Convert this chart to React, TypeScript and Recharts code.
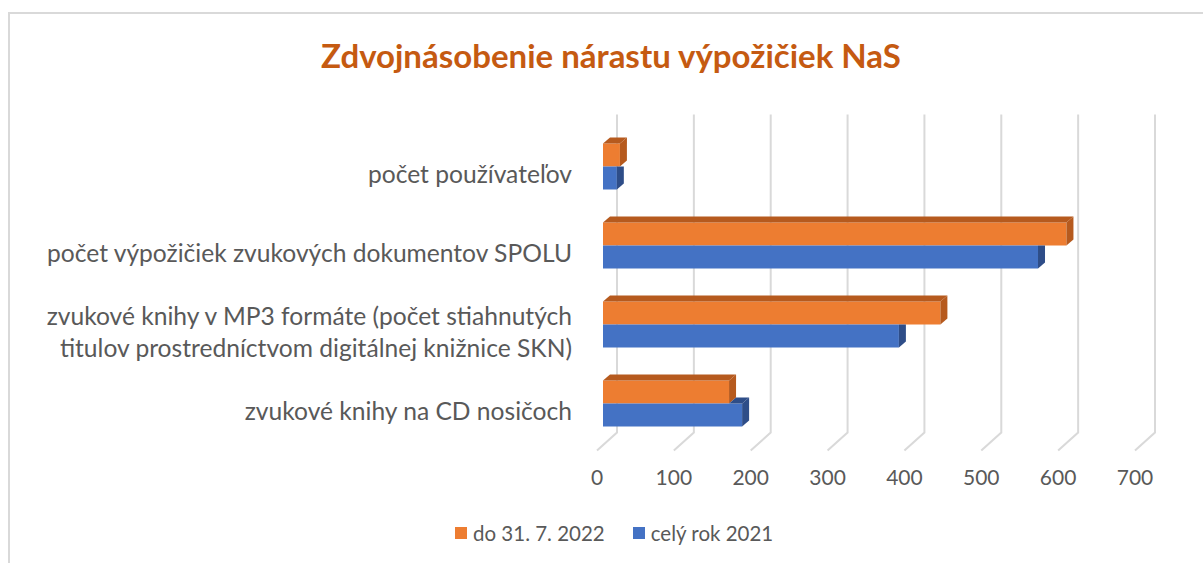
import React from 'react';
import { BarChart, Bar, XAxis, YAxis, CartesianGrid } from 'recharts';

const categories = [
  'počet používateľov',
  'počet výpožičiek zvukových dokumentov SPOLU',
  'zvukové knihy v MP3 formáte (počet stiahnutých\ntitulov prostredníctvom digitálnej knižnice SKN)',
  'zvukové knihy na CD nosičoch',
];
const seriesNames = ['do 31. 7. 2022', 'celý rok 2021'];
const values2022 = [22, 603, 439, 164];
const values2021 = [18, 566, 385, 181];
const xTicks = [0, 100, 200, 300, 400, 500, 600, 700];

const data = categories.map((name, i) => ({
  name,
  y2022: values2022[i],
  y2021: values2021[i],
}));

const ORANGE = '#ED7D31';
const ORANGE_DARK = '#B65A1E';
const BLUE = '#4472C4';
const BLUE_DARK = '#2E4D88';
const GRID = '#D9D9D9';
const TEXT = '#595959';
const FONT = 'Lato, "Open Sans", sans-serif';

const DX = 7;
const DY = 6;

function OrangeBar(props: any) {
  const { x, y, width, height } = props;
  if (!width) return null;
  return (
    <g>
      <rect x={x} y={y} width={width} height={height} fill={ORANGE} />
      <polygon
        points={`${x},${y} ${x + DX},${y - DY} ${x + width + DX},${y - DY} ${x + width},${y}`}
        fill={ORANGE_DARK}
      />
      <polygon
        points={`${x + width},${y} ${x + width + DX},${y - DY} ${x + width + DX},${y + height - DY} ${x + width},${y + height}`}
        fill={ORANGE_DARK}
      />
    </g>
  );
}

function BlueBar(props: any) {
  const { x, y, width, height, value, payload } = props;
  if (!width) return null;
  const wo = value ? (payload.y2022 * width) / value : 0;
  const right = x + width;
  let side;
  let top = null;
  if (width >= wo) {
    side = `${right},${y} ${right + DX},${y - DY} ${right + DX},${y + height - DY} ${right},${y + height}`;
    top = (
      <polygon
        points={`${x + wo},${y} ${x + wo + DX},${y - DY} ${right + DX},${y - DY} ${right},${y}`}
        fill={BLUE_DARK}
      />
    );
  } else {
    side = `${right},${y} ${right + DX},${y} ${right + DX},${y + height - DY} ${right},${y + height}`;
  }
  return (
    <g>
      <rect x={x} y={y} width={width} height={height} fill={BLUE} />
      {top}
      <polygon points={side} fill={BLUE_DARK} />
    </g>
  );
}

function GridLine(props: any) {
  const { x1, y1, y2 } = props;
  const bx = x1 + 14;
  return (
    <path
      key={props.key}
      d={`M${bx},${y1 - 12} L${bx},${y2 - 10} L${x1 - 6},${y2 + 8}`}
      stroke={GRID}
      strokeWidth={2}
      fill="none"
    />
  );
}

function XTick(props: any) {
  const { x, y, payload } = props;
  return (
    <text x={x - 6} y={y + 42} textAnchor="middle" fill={TEXT} fontSize={21} fontFamily={FONT}>
      {payload.value}
    </text>
  );
}

function YTick(props: any) {
  const { x, y, payload } = props;
  const lines = String(payload.value).split('\n');
  const lh = 32;
  const start = y + 8 - ((lines.length - 1) * lh) / 2;
  return (
    <text x={x} y={start} textAnchor="end" fill={TEXT} fontSize={24.6} fontFamily={FONT}>
      {lines.map((l, i) => (
        <tspan key={i} x={x} y={start + i * lh} dy="0.35em">
          {l}
        </tspan>
      ))}
    </text>
  );
}

export default function App() {
  return (
    <div
      style={{
        position: 'absolute',
        left: 0,
        top: 0,
        width: 1203,
        height: 563,
        overflow: 'hidden',
        background: '#fff',
        fontFamily: FONT,
      }}
    >
      <div
        style={{
          position: 'absolute',
          left: 8,
          top: 12,
          width: 1195,
          height: 551,
          borderTop: `2px solid ${GRID}`,
          borderLeft: `2px solid ${GRID}`,
        }}
      />
      <div
        style={{
          position: 'absolute',
          left: 0,
          top: 35,
          width: 1222,
          textAlign: 'center',
          color: '#C55A11',
          fontWeight: 700,
          fontSize: 33,
        }}
      >
        Zdvojnásobenie nárastu výpožičiek NaS
      </div>
      <div style={{ position: 'absolute', left: 0, top: 0 }}>
        <BarChart
          width={1203}
          height={563}
          data={data}
          layout="vertical"
          barSize={23}
          barGap={0}
          margin={{ top: 126.5, right: 62, bottom: 80.5, left: 0 }}
        >
          <CartesianGrid horizontal={false} vertical={GridLine} />
          <XAxis
            type="number"
            domain={[0, 700]}
            ticks={xTicks}
            axisLine={false}
            tickLine={false}
            tickSize={0}
            tickMargin={0}
            height={40}
            tick={XTick}
            interval={0}
          />
          <YAxis
            type="category"
            dataKey="name"
            width={603}
            axisLine={false}
            tickLine={false}
            tickSize={0}
            tickMargin={31}
            tick={YTick}
            interval={0}
          />
          <Bar dataKey="y2022" name={seriesNames[0]} fill={ORANGE} shape={OrangeBar} isAnimationActive={false} />
          <Bar dataKey="y2021" name={seriesNames[1]} fill={BLUE} shape={BlueBar} isAnimationActive={false} />
        </BarChart>
      </div>
      <div
        style={{
          position: 'absolute',
          top: 521,
          left: 455,
          display: 'flex',
          alignItems: 'center',
          fontSize: 20.5,
          color: TEXT,
        }}
      >
        {seriesNames.map((n, i) => (
          <div key={n} style={{ display: 'flex', alignItems: 'center', marginRight: 28 }}>
            <span
              style={{
                display: 'inline-block',
                width: 12,
                height: 12,
                background: i === 0 ? ORANGE : BLUE,
                marginRight: 6,
              }}
            />
            {n}
          </div>
        ))}
      </div>
    </div>
  );
}
